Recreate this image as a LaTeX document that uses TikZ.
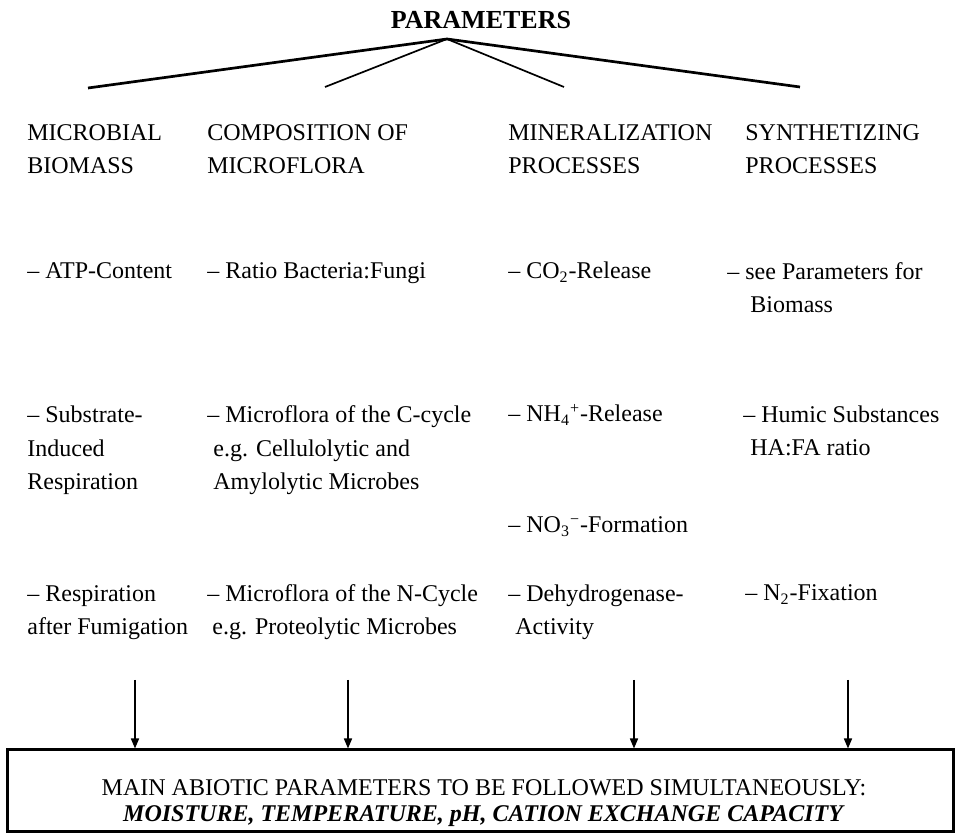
\documentclass[tikz,border=0pt]{standalone}
\usepackage{fontspec}
\setmainfont{Liberation Serif}
\usetikzlibrary{arrows.meta}

\begin{document}
\begin{tikzpicture}[x=0.5pt,y=-0.5pt,
  every node/.style={inner sep=0pt,font=\fontsize{12}{16.8}\selectfont},
  entry/.style={anchor=base west,align=left},
  branch/.style={line width=1.35pt},
  twig/.style={line width=0.85pt},
  feed/.style={line width=0.75pt,-{Triangle[length=5pt,width=4pt]}}]%,cap=round]
\useasboundingbox (0,0) rectangle (955,833);

\node[anchor=base,font=\fontsize{13}{15}\selectfont\bfseries] (param) at (481,29) {PARAMETERS};
\coordinate (top) at (447,39);
\coordinate (b1) at (88,88);
\coordinate (b2) at (325,87);
\coordinate (b3) at (564,87);
\coordinate (b4) at (800,87);
\draw[branch] (b1) -- (top) -- (b4);
\draw[twig] (b2) -- (top) -- (b3);

% column heads (entries sit on their last line)
\node[entry] (biomass) at (27,174) {MICROBIAL\\BIOMASS};
\node[entry] (flora) at (207,174) {COMPOSITION OF\\MICROFLORA};
\node[entry] (miner) at (508,174) {MINERALIZATION\\PROCESSES};
\node[entry] (synth) at (745,174) {SYNTHETIZING\\PROCESSES};

\node[entry] (atp) at (27,279) {-- ATP-Content};
\node[entry] (ratio) at (207,279) {-- Ratio Bacteria:Fungi};
\node[entry] (co2) at (508,279) {-- CO\textsubscript{2}-Release};
\node[entry] (see) at (727,313) {-- see Parameters for\\\hspace*{11.5pt}Biomass};

\node[entry] (sir) at (27,490) {-- Substrate-\\Induced\\Respiration};
\node[entry] (ccycle) at (207,490) {-- Microflora of the C-cycle\\\hspace*{3pt}e.g. Cellulolytic and\\\hspace*{3pt}Amylolytic Microbes};
\node[entry] (nh4) at (508,422) {-- NH\textsubscript{4}\textsuperscript{+}-Release};
\node[entry] (humic) at (743,456) {-- Humic Substances\\\hspace*{3.5pt}HA:FA ratio};
\node[entry] (no3) at (508,533) {-- NO\textsubscript{3}\textsuperscript{−}-Formation};

\node[entry] (resp) at (27,635) {-- Respiration\\after Fumigation};
\node[entry] (ncycle) at (207,635) {-- Microflora of the N-Cycle\\\hspace*{2.5pt}e.g. Proteolytic Microbes};
\node[entry] (dehyd) at (508,635) {-- Dehydrogenase-\\\hspace*{3.5pt}Activity};
\node[entry] (nfix) at (745,601) {-- N\textsubscript{2}-Fixation};

% abiotic box
\node[draw,line width=1.5pt,minimum width=473pt,minimum height=41pt] (abiotic) at (480,791) {};
\node[anchor=base,align=center,font=\fontsize{12}{13}\selectfont] (follow) at (484,822)
  {MAIN ABIOTIC PARAMETERS TO BE FOLLOWED SIMULTANEOUSLY:\\\textbf{\textit{MOISTURE, TEMPERATURE, pH, CATION EXCHANGE CAPACITY}}};

\foreach \x [count=\i] in {135,348,634,848}
  \coordinate (a\i) at (\x,680);
\foreach \i in {1,...,4}
  \draw[feed] (a\i) -- (a\i |- abiotic.north);
\end{tikzpicture}
\end{document}
